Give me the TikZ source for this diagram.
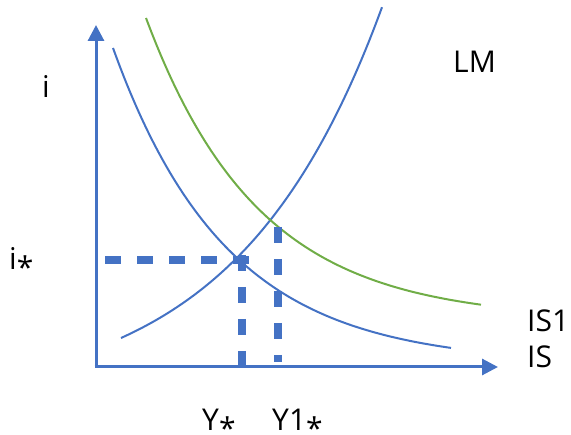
\documentclass[tikz,border=0pt]{standalone}
\usepackage{fontspec}
\setmainfont{Open Sans}
\usetikzlibrary{arrows.meta}
\definecolor{axisblue}{HTML}{4472C4}
\definecolor{isgreen}{HTML}{70AD47}
\newcommand{\lowstar}{\raisebox{-0.28em}[0.45em][0pt]{*}}
\begin{document}
\begin{tikzpicture}[x=1pt,y=-1pt,
  axisline/.style={draw=axisblue,line width=3pt,-{Triangle[length=16pt,width=16pt]}},
  curve/.style={line width=2pt},
  guide/.style={draw=axisblue,line width=8pt,dash pattern=on 16pt off 16pt},
  lbl/.style={anchor=base west,inner sep=0pt,font=\fontsize{30}{36}\selectfont}]
\useasboundingbox (0,0) rectangle (571,435);
% axes
\coordinate (O) at (96,367);
\coordinate (ytop) at (96,25);
\coordinate (xend) at (498,367);
\coordinate (Ob) at (94.5,367);
\draw[axisline] (O) -- (ytop);
\draw[axisline] (Ob) -- (xend);
% LM
\draw[curve,axisblue] plot[domain=121:382,samples=120] (\x,{338-65.5*(exp(0.0069*(\x-121))-1)});
% IS
\draw[curve,axisblue] plot[domain=113:451,samples=120] (\x,{364-316*exp(-0.0088*(\x-113))});
% IS1
\draw[curve,isgreen] plot[domain=146:481,samples=120] (\x,{320-302*exp(-0.0089*(\x-146))});
% guides
\coordinate (h1) at (105,260);
\coordinate (h2) at (249,260);
\coordinate (v1a) at (242,255);
\coordinate (v1b) at (242,367);
\coordinate (v2a) at (278,227);
\coordinate (v2b) at (278,362);
\draw[guide] (h1) -- (h2);
\draw[guide] (v1a) -- (v1b);
\draw[guide] (v2a) -- (v2b);
% labels
\node[lbl] (li) at (42,98) {i};
\node[lbl] (listar) at (9,270) {i\lowstar};
\node[lbl] (lm) at (453,73) {LM};
\node[lbl] (is1) at (527,332) {IS1};
\node[lbl] (is) at (527,368) {IS};
\node[lbl] (ystar) at (202,431) {Y\lowstar};
\node[lbl] (y1star) at (272,431) {Y1\lowstar};
\end{tikzpicture}
\end{document}
